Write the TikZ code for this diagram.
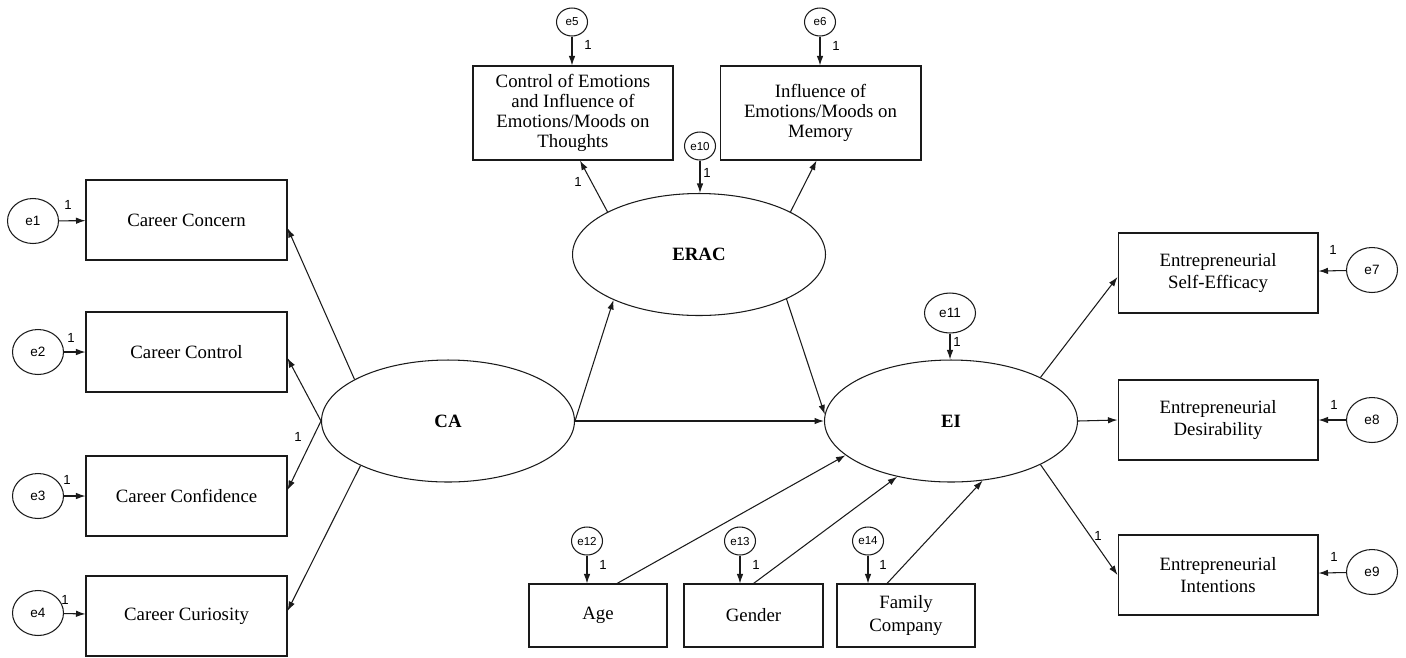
\documentclass[tikz,border=0pt]{standalone}
\usepackage{fontspec}
\setmainfont{Liberation Serif}
\newfontfamily\arialfont{Liberation Sans}
\usepackage{tikz}
\usepackage{xcolor}
\usetikzlibrary{arrows.meta,positioning,shapes,calc}
\definecolor{ink}{HTML}{1A1A1A}
\tikzset{
  indicator/.style={
    draw=ink, line width=0.6pt, rectangle,
    inner sep=0pt, align=center,
    font=\fontsize{10.7}{13}\selectfont
  },
  construct/.style={
    draw=ink, line width=0.6pt, ellipse, inner sep=0pt,
    minimum width=5.06cm, minimum height=2.44cm,
    font=\fontsize{10.7}{13}\selectfont\bfseries
  },
  errbig/.style={
    draw=ink, line width=0.6pt, ellipse, inner sep=0pt,
    minimum width=1.02cm, minimum height=0.9cm,
    font=\arialfont\fontsize{7.7}{9}\selectfont
  },
  errsmall/.style={
    draw=ink, line width=0.6pt, ellipse, inner sep=0pt,
    minimum width=0.62cm, minimum height=0.56cm,
    font=\arialfont\fontsize{6.6}{8}\selectfont
  },
  wone/.style={font=\arialfont\fontsize{7.5}{9}\selectfont, inner sep=0pt},
  regarrow/.style={draw=ink, line width=0.6pt, -{Latex[length=1.9mm,width=1.3mm]}}
}
\begin{document}
\begin{tikzpicture}[x=0.02cm, y=-0.02cm]
  \useasboundingbox (0,0) rectangle (1406,657);
  % latent variables
  \node[construct] (ca) at (448,421) {CA};
  \node[construct] (erac) at (699,254.5) {ERAC};
  \node[construct] (ei) at (951,421) {EI};
  % career adaptability
  \node[indicator, minimum width=4.02cm, minimum height=1.6cm] (concern) at (186.5,220) {Career Concern};
  \node[indicator, minimum width=4.02cm, minimum height=1.6cm] (control) at (186.5,352) {Career Control};
  \node[indicator, minimum width=4.02cm, minimum height=1.6cm] (confidence) at (186.5,496) {Career Confidence};
  \node[indicator, minimum width=4.02cm, minimum height=1.6cm] (curiosity) at (186.5,616) {Career Curiosity};
  % emotions
  \node[indicator, minimum width=4cm, minimum height=1.88cm, font=\fontsize{10.7}{11.3}\selectfont] (ctrlemo) at (573,113)
    {Control of Emotions\\and Influence of\\Emotions/Moods on\\Thoughts};
  \node[indicator, minimum width=4.02cm, minimum height=1.88cm, font=\fontsize{10.7}{11.3}\selectfont] (inflemo) at (820.5,113)
    {Influence of\\Emotions/Moods on\\Memory};
  % entrepreneurial intention
  \node[indicator, minimum width=4cm, minimum height=1.6cm] (selfeff) at (1218,273) {Entrepreneurial\\Self-Efficacy};
  \node[indicator, minimum width=4cm, minimum height=1.6cm] (desir) at (1218,420) {Entrepreneurial\\Desirability};
  \node[indicator, minimum width=4cm, minimum height=1.6cm] (intent) at (1218,575) {Entrepreneurial\\Intentions};
  % controls
  \node[indicator, minimum width=2.76cm, minimum height=1.26cm] (age) at (598,615.5) {Age};
  \node[indicator, minimum width=2.78cm, minimum height=1.26cm] (gender) at (753.5,615.5) {Gender};
  \node[indicator, minimum width=2.76cm, minimum height=1.26cm] (family) at (906,615.5) {Family\\Company};
  % error terms
  \node[errbig] (e1) at (33,221) {e1};
  \node[errbig] (e2) at (38,352) {e2};
  \node[errbig] (e3) at (38,496) {e3};
  \node[errbig] (e4) at (38,613) {e4};
  \node[errbig] (e7) at (1372,270) {e7};
  \node[errbig] (e8) at (1372,420) {e8};
  \node[errbig] (e9) at (1372,572) {e9};
  \node[errbig, minimum height=0.8cm] (e11) at (950,313) {e11};
  \node[errsmall] (e5) at (572,22) {e5};
  \node[errsmall] (e6) at (820,22) {e6};
  \node[errsmall] (e10) at (700,146) {e10};
  \node[errsmall] (e12) at (587,541) {e12};
  \node[errsmall] (e13) at (740,541) {e13};
  \node[errsmall] (e14) at (868,541) {e14};

  \draw[regarrow] (e1) -- (concern);
  \draw[regarrow] (e2) -- (control);
  \draw[regarrow] (e3) -- (confidence);
  \draw[regarrow] (e4) -- (curiosity);
  \draw[regarrow] (e7) -- (selfeff);
  \draw[regarrow] (e8) -- (desir);
  \draw[regarrow] (e9) -- (intent);
  \draw[regarrow] (e5) -- (e5 |- ctrlemo.north);
  \draw[regarrow] (e6) -- (e6 |- inflemo.north);
  \draw[regarrow] (e10) -- (e10 |- erac.north);
  \draw[regarrow] (e11) -- (e11 |- ei.north);
  \draw[regarrow] (e12) -- (e12 |- age.north);
  \draw[regarrow] (e13) -- (e13 |- gender.north);
  \draw[regarrow] (e14) -- (e14 |- family.north);

  % structural paths
  \draw[regarrow] (ca.156) -- ($(concern.east)+(0,8)$);
  \draw[regarrow] (ca.west) -- ($(control.east)+(0,6)$);
  \draw[regarrow] (ca.west) -- ($(confidence.east)+(0,-6)$);
  \draw[regarrow] (ca.207) -- ($(curiosity.east)+(0,-5)$);
  \draw[regarrow] (ca.east) -- (erac.208);
  \draw[regarrow] (ca.east) -- (ei.west);
  \draw[regarrow] (erac.333) -- (ei.177);
  \draw[regarrow] (erac.155) -- ($(ctrlemo.south)+(7,0)$);
  \draw[regarrow] (erac.25) -- ($(inflemo.south)+(-4,0)$);
  \draw[regarrow] (ei.26) -- ($(selfeff.west)+(0,4)$);
  \draw[regarrow] (ei.east) -- (desir.west);
  \draw[regarrow] (ei.334) -- (intent.west);
  \draw[regarrow] ($(age.north)+(19,0)$) -- (ei.198);
  \draw[regarrow] (gender.north) -- (ei.226);
  \draw[regarrow] ($(family.north)+(-19,0)$) -- (ei.298);

  % fixed loadings
  \foreach \p [count=\i] in {(68,205),(71,338),(67,480),(65,600),(298,437),
      (588,45),(836,46),(707,173),(578,182),(957,342),
      (1333,250),(1334,405),(1334,557),(1098,536),
      (603,565),(756,565),(883,565)}
    \node[wone] (w\i) at \p {1};
\end{tikzpicture}
\end{document}
